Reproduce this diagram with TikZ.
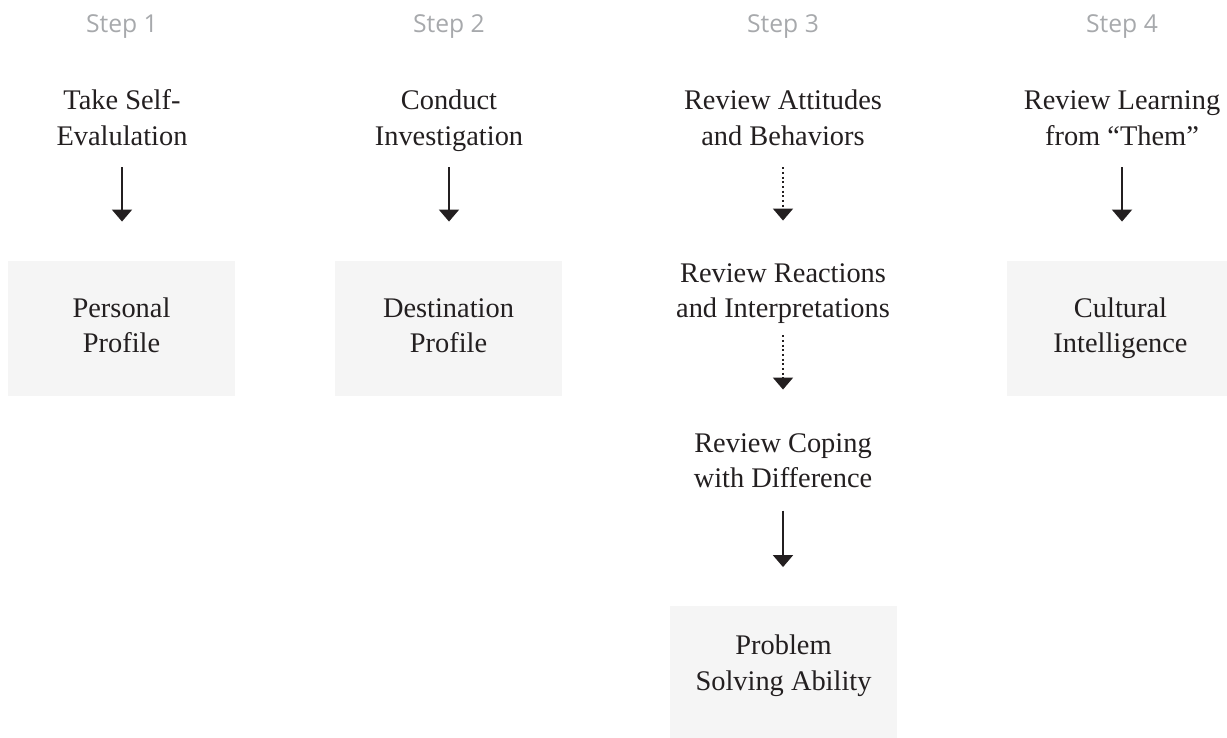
\documentclass[tikz,border=0pt]{standalone}
\usepackage{fontspec}
\usepackage{xcolor}
\usetikzlibrary{arrows.meta}
\setmainfont{Liberation Serif}
\newfontfamily\stepfont{Open Sans}

\definecolor{steptext}{HTML}{A7A9AC}
\definecolor{boxfill}{HTML}{F5F5F5}
\definecolor{ink}{HTML}{231F20}

\tikzset{
	steplabel/.style={font=\stepfont\fontsize{18.5}{22}\selectfont, text=steptext},
	task/.style={font=\fontsize{21.3}{26.5}\selectfont, text=ink, align=center},
	result/.style={task, fill=boxfill, minimum width=170.25pt, minimum height=101.25pt},
	flow/.style={draw=ink, line width=1.5pt, -{Triangle[width=15pt,length=9pt]}},
	dotflow/.style={flow, dotted}
}

\begin{document}
\begin{tikzpicture}[x=0.75pt,y=-0.75pt]
		\useasboundingbox (0,0) rectangle (1227,738);
		\begin{scope}
		\clip (0,0) rectangle (1227,738);
		
		\draw (122,27) node[steplabel] (s1) {Step 1};
		\draw (449,27) node[steplabel] (s2) {Step 2};
		\draw (783,27) node[steplabel] (s3) {Step 3};
		\draw (1122,27) node[steplabel] (s4) {Step 4};
		
		\draw (122,120.6) node[task] (t1) {\strut Take Self-\\\strut Evalulation};
		\draw (449,120.6) node[task] (t2) {\strut Conduct\\\strut Investigation};
		\draw (783,120.6) node[task] (t3a) {\strut Review Attitudes\\\strut and Behaviors};
		\draw (1122,120.6) node[task] (t4) {\strut Review Learning\\\strut from ``Them''};
		
		\draw (783,292.6) node[task] (t3b) {\strut Review Reactions\\\strut and Interpretations};
		\draw (783,462.6) node[task] (t3c) {\strut Review Coping\\\strut with Difference};
		
		\draw (121.5,328) node[result] (b1) {\strut Personal\\\strut Profile};
		\draw (448.5,328) node[result] (b2) {\strut Destination\\\strut Profile};
		\draw (1120.5,328) node[result] (b4) {\strut Cultural\\\strut Intelligence};
		\draw (783.5,673.5) node[result, text depth=20pt] (b3) {\strut Problem\\\strut Solving Ability};
		\end{scope}
		
		\draw[flow] ([yshift=-5pt]t1.south) -- ([yshift=29pt]t1.south |- b1.north);
		\draw[flow] ([yshift=-5pt]t2.south) -- ([yshift=29pt]t2.south |- b2.north);
		\draw[flow] ([yshift=-5pt]t4.south) -- ([yshift=29pt]t4.south |- b4.north);
		\draw[dotflow] ([yshift=-5pt]t3a.south) -- ([yshift=24pt]t3b.north);
		\draw[dotflow] ([yshift=-2pt]t3b.south) -- ([yshift=24.75pt]t3c.north);
		\draw[flow] ([yshift=-6pt]t3c.south) -- ([yshift=29pt]t3c.south |- b3.north);
	\end{tikzpicture}
\end{document}
